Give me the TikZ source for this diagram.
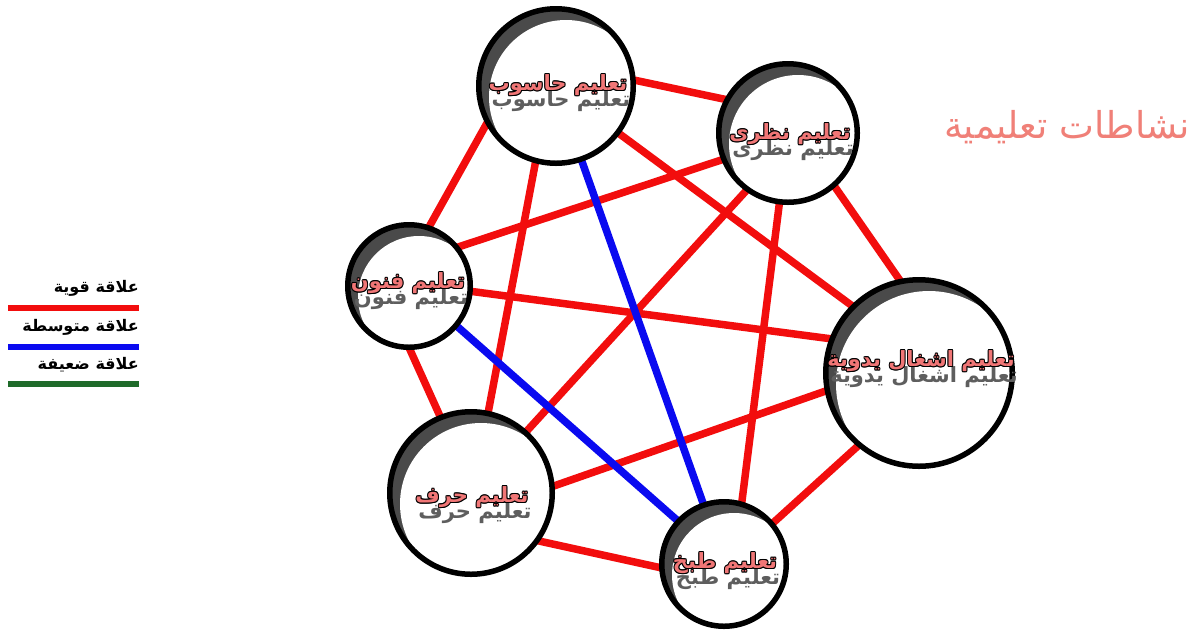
\documentclass[tikz,border=0pt]{standalone}
\usepackage{fontspec}
\newfontfamily\arabicfont[Script=Arabic]{DejaVu Sans}
\TeXXeTstate=1
\usetikzlibrary{calc}
\pgfdeclarelayer{canvas}
\pgfdeclarelayer{background}
\pgfsetlayers{canvas,background,main}
\definecolor{linkred}{HTML}{F20D0D}
\definecolor{linkblue}{HTML}{0A0AF0}
\definecolor{linkgreen}{HTML}{1F6B2A}
\definecolor{crescent}{HTML}{4A4A4A}
\definecolor{lblpink}{HTML}{F07676}
\definecolor{lblshadow}{HTML}{5E5E5E}
\definecolor{titlepink}{HTML}{F08078}
\newcommand\arlbl[1]{%
  \setbox0=\hbox{\beginR #1\endR}%
  \rlap{\smash{\kern3pt\lower16pt\hbox{\color{lblshadow}\copy0}}}%
  \rlap{\smash{\color{black}\kern1pt\copy0}}%
  \rlap{\smash{\color{black}\kern-1pt\copy0}}%
  \rlap{\smash{\color{black}\raise1pt\copy0}}%
  \rlap{\smash{\color{black}\lower1pt\copy0}}%
  \rlap{\smash{\color{black}\kern.7pt\raise.7pt\copy0}}%
  \rlap{\smash{\color{black}\kern-.7pt\raise.7pt\copy0}}%
  \rlap{\smash{\color{black}\kern.7pt\lower.7pt\copy0}}%
  \rlap{\smash{\color{black}\kern-.7pt\lower.7pt\copy0}}%
  \hbox{\color{lblpink}\copy0}}
\tikzset{
  ball/.style={circle, draw=black, line width=5.5pt, inner sep=0pt,
    minimum size={2*#1pt-5.5pt}, fill=crescent,
    path picture={\fill[white] ([shift={(10pt,-11pt)}]path picture bounding box.center) circle ({#1pt-3pt});}},
  link/.style={line width=7.5pt, shorten <=-12pt, shorten >=-12pt},
  strong/.style={link, draw=linkred},
  medium/.style={link, draw=linkblue},
  lbl/.style={inner sep=0pt, font=\fontsize{21}{25}\selectfont\arabicfont\bfseries},
  legendtxt/.style={inner sep=0pt, anchor=east, font=\fontsize{16}{20}\selectfont\arabicfont\bfseries},
  legendbar/.style={line width=6pt},
}
\begin{document}
\begin{tikzpicture}[x=1pt, y=-1pt]
\useasboundingbox (0,0) rectangle (1198,633);
\begin{pgfonlayer}{canvas}
\fill[white] (0,0) rectangle (1198,633);
\end{pgfonlayer}

% circles
\node[ball=80] (C) at (556,86) {};
\node[ball=72] (T) at (788,133) {};
\node[ball=64] (A) at (409,286) {};
\node[ball=96] (H) at (919,373) {};
\node[ball=84] (K) at (471,493) {};
\node[ball=65] (P) at (724,564) {};

% connectors
\begin{pgfonlayer}{background}
\draw[strong] (C.4) -- (T.152);
\draw[strong] (C.209) -- (A.71);
\draw[strong] (C.-105) -- (K.78);
\draw[strong] (C.-37) -- (H.135);
\draw[strong] (T.202) -- (A.38);
\draw[strong] (T.-126) -- (K.48);
\draw[strong] (T.-97) -- (P.74);
\draw[strong] (T.-49) -- (H.102);
\draw[strong] (A.-5) -- (H.159);
\draw[strong] (A.-89) -- (K.112);
\draw[strong] (K.5) -- (H.191);
\draw[strong] (K.-35) -- (P.183);
\draw[strong] (H.-130) -- (P.40);
\draw[medium] (C.-71) -- (P.109);
\draw[medium] (A.-40) -- (P.137);
\end{pgfonlayer}

% labels
\node[lbl] (Ct) at (558,85) {\arlbl{تعليم حاسوب}};
\node[lbl] (Tt) at (790,134) {\arlbl{تعليم نظرى}};
\node[lbl] (At) at (408,283) {\arlbl{تعليم فنون}};
\node[lbl] (Ht) at (921,361) {\arlbl{تعليم اشغال يدوية}};
\node[lbl] (Kt) at (472,497) {\arlbl{تعليم حرف}};
\node[lbl] (Pt) at (725,563) {\arlbl{تعليم طبخ}};

% title
\node[inner sep=0pt, text=titlepink, font=\fontsize{37}{44}\selectfont\arabicfont] (title) at (1067,127) {\beginR نشاطات تعليمية\endR};

% legend
\node[legendtxt] (l1) at (139,288) {\beginR علاقة قوية\endR};
\draw[legendbar, draw=linkred] (8,308) -- (139,308);
\node[legendtxt] (l2) at (139,327) {\beginR علاقة متوسطة\endR};
\draw[legendbar, draw=linkblue] (8,347) -- (139,347);
\node[legendtxt] (l3) at (139,365) {\beginR علاقة ضعيفة\endR};
\draw[legendbar, draw=linkgreen] (8,384) -- (139,384);
\end{tikzpicture}
\end{document}
